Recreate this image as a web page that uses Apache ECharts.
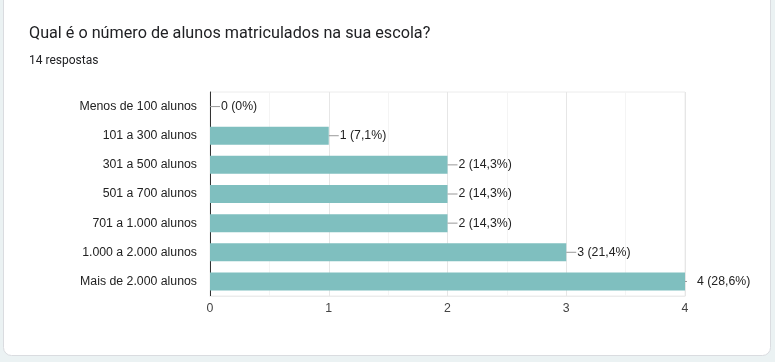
<!DOCTYPE html>
<html>
<head>
<meta charset="utf-8">
<script src="https://cdn.jsdelivr.net/npm/echarts@6/dist/echarts.min.js"></script>
<style>
html,body{margin:0;padding:0;background:#ebf2f3;}
#chart{position:absolute;left:0;top:0;width:775px;height:362px;}
</style>
</head>
<body>
<div id="chart"></div>
<script>
const titleText = 'Qual é o número de alunos matriculados na sua escola?';
const subtitleText = '14 respostas';
const categories = ['Menos de 100 alunos','101 a 300 alunos','301 a 500 alunos','501 a 700 alunos','701 a 1.000 alunos','1.000 a 2.000 alunos','Mais de 2.000 alunos'];
const counts = [0, 1, 2, 2, 2, 3, 4];
const percents = ['0%', '7,1%', '14,3%', '14,3%', '14,3%', '21,4%', '28,6%'];
const xTicks = [0, 1, 2, 3, 4];

const chart = echarts.init(document.getElementById('chart'), null, {renderer: 'canvas'});
const axisMax = xTicks[xTicks.length - 1];
const txtFont = 'Arial, "Liberation Sans", sans-serif';

const data = counts.map((v, i) => {
  const atEdge = v >= axisMax;
  return {
    value: v,
    label: {
      formatter: atEdge
        ? '{s|}{g|}{t|' + v + ' (' + percents[i] + ')}'
        : '{l|}{g1|}{t|' + v + ' (' + percents[i] + ')}'
    }
  };
});

chart.setOption({
  animation: false,
  backgroundColor: '#ebf2f3',
  graphic: [{
    type: 'rect',
    z: -10,
    shape: {x: 3.5, y: -8.5, width: 767, height: 364, r: 8},
    style: {fill: '#ffffff', stroke: '#dadce0', lineWidth: 1}
  }],
  title: [{
    text: titleText,
    left: 29, top: 26, padding: 0,
    textStyle: {fontFamily: 'Roboto', fontSize: 16.2, fontWeight: 'normal', color: '#202124'}
  }, {
    text: subtitleText,
    left: 29, top: 55, padding: 0,
    textStyle: {fontFamily: 'Roboto', fontSize: 12, fontWeight: 'normal', color: '#202124'}
  }],
  grid: {left: 210, right: 90, top: 92, bottom: 66, show: true, borderColor: '#ececec', borderWidth: 1},
  xAxis: {
    type: 'value', min: 0, max: axisMax, interval: 1,
    axisLine: {show: true, lineStyle: {color: '#ececec'}},
    axisTick: {show: false},
    axisLabel: {color: '#444', fontFamily: txtFont, fontSize: 12.3, margin: 7},
    splitLine: {show: true, lineStyle: {color: '#e6e6e6'}},
    minorTick: {show: false, splitNumber: 2},
    minorSplitLine: {show: true, lineStyle: {color: '#f4f4f4'}}
  },
  yAxis: {
    type: 'category', data: categories, inverse: true,
    axisLine: {show: true, lineStyle: {color: '#333', width: 1}},
    axisTick: {show: false},
    axisLabel: {color: '#222', fontFamily: txtFont, fontSize: 12.3, margin: 13}
  },
  series: [{
    type: 'bar',
    data: data,
    barWidth: 18,
    itemStyle: {color: '#7fbfbf'},
    label: {
      show: true, position: 'right', distance: 0,
      rich: {
        l: {width: 10, height: 1, backgroundColor: '#999', verticalAlign: 'middle'},
        s: {width: 2, height: 1, backgroundColor: '#999', verticalAlign: 'middle'},
        g1: {width: 1, height: 1},
        g: {width: 10, height: 1},
        t: {color: '#222', fontFamily: txtFont, fontSize: 12.3}
      }
    }
  }]
});
</script>
</body>
</html>
